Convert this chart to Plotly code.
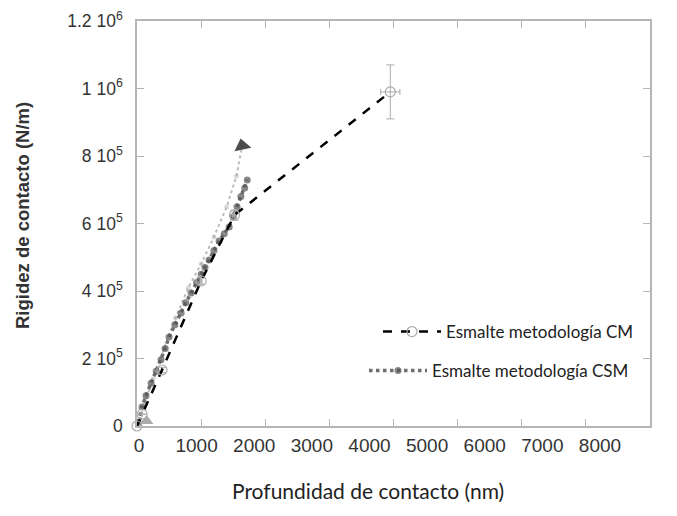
import plotly.graph_objects as go

# ---- data ----
cm_x = [0, 80, 390, 1000, 1520, 3950]
cm_y = [0, 35000, 166000, 430000, 625000, 990000]
cm_err_y = [0, 0, 8000, 10000, 15000, 80000]
cm_err_x = [0, 0, 10, 15, 30, 150]

csm_x = [20, 78, 140, 219, 300, 375, 440, 500, 590, 688, 760, 844, 930, 1000, 1060, 1125, 1200, 1280, 1360, 1437, 1500, 1560, 1620, 1680, 1719]
csm_y = [10000, 56000, 90000, 127000, 162000, 196000, 230000, 264000, 300000, 335000, 365000, 394000, 425000, 450000, 470000, 492000, 520000, 548000, 570000, 590000, 620000, 650000, 680000, 705000, 729000]

csm2_x = [30, 120, 250, 420, 600, 800, 1000, 1200, 1400, 1550, 1640]
csm2_y = [15000, 70000, 140000, 230000, 320000, 410000, 480000, 560000, 650000, 740000, 830000]

tri_x = [150]
tri_y = [15000]

x_tick_vals = [0, 1000, 2000, 3000, 4000, 5000, 6000, 7000, 8000]
x_tick_text = ["0", "1000", "2000", "3000", "4000", "5000", "6000", "7000", "8000"]
y_tick_vals = [0, 200000, 400000, 600000, 800000, 1000000, 1200000]
y_tick_text = ["0", "2 10<sup>5</sup>", "4 10<sup>5</sup>", "6 10<sup>5</sup>",
               "8 10<sup>5</sup>", "1 10<sup>6</sup>", "1.2 10<sup>6</sup>"]

x_title = "Profundidad de contacto (nm)"
y_title = "Rigidez de contacto (N/m)"
name_cm = "Esmalte metodología CM"
name_csm = "Esmalte metodología CSM"

W, H = 677, 516
ML, MR, MT, MB = 137, 27, 21, 90
PW = W - ML - MR

fig = go.Figure()

# invisible trace on a label-only x axis
fig.add_trace(go.Scatter(
    x=[x_tick_vals[0], x_tick_vals[-1]], y=[0, 0], xaxis="x2", yaxis="y",
    mode="markers", marker=dict(opacity=0), showlegend=False, hoverinfo="skip",
))

# light gray dotted series ending with black triangle
fig.add_trace(go.Scatter(
    x=csm2_x, y=csm2_y, mode="lines+markers", showlegend=False, cliponaxis=False,
    line=dict(color="rgba(170,170,170,0.8)", width=2, dash="dot"),
    marker=dict(size=[5]*(len(csm2_x)-1) + [15],
                symbol=["circle"]*(len(csm2_x)-1) + ["triangle-up"],
                color=["rgba(170,170,170,0.6)"]*(len(csm2_x)-1) + ["#000000"],
                angle=[0]*(len(csm2_x)-1) + [-12],
                line=dict(width=0)),
))

# CSM series
fig.add_trace(go.Scatter(
    x=csm_x, y=csm_y, mode="lines+markers", name=name_csm, legend="legend2", cliponaxis=False,
    line=dict(color="#6e6e6e", width=3.5, dash="dot"),
    marker=dict(size=7, color="rgba(85,85,85,0.7)"),
))

# gray triangle near origin
fig.add_trace(go.Scatter(
    x=tri_x, y=tri_y, mode="markers", showlegend=False, cliponaxis=False,
    marker=dict(symbol="triangle-up", size=12, color="rgba(150,150,150,0.8)"),
))

# CM series
fig.add_trace(go.Scatter(
    x=cm_x, y=cm_y, mode="lines+markers", name=name_cm, legend="legend", cliponaxis=False,
    line=dict(color="black", width=2.5, dash="dash"),
    marker=dict(size=10, symbol="circle-open", color="#aaaaaa", line=dict(width=1.2, color="#aaaaaa")),
    error_y=dict(type="data", array=cm_err_y, color="#aaaaaa", thickness=1, width=4),
    error_x=dict(type="data", array=cm_err_x, color="#aaaaaa", thickness=1, width=3),
))

axis_line = "#b5b5b5"
x2_end = (600 - ML) / PW
px_per_unit = (600 - 135) / 8000.0

fig.update_layout(
    width=W, height=H,
    margin=dict(l=ML, r=MR, t=MT, b=MB, autoexpand=False),
    paper_bgcolor="white", plot_bgcolor="rgba(0,0,0,0)",
    font=dict(family="Liberation Sans, Arial", color="#333333"),
    xaxis=dict(
        range=[0, 8000], tickvals=x_tick_vals, showticklabels=False,
        ticks="inside", ticklen=7, tickcolor=axis_line, tickwidth=1,
        showline=True, linecolor=axis_line, linewidth=1.5, mirror="ticks",
        showgrid=False, zeroline=False, automargin=False,
    ),
    xaxis2=dict(
        domain=[0, x2_end], anchor="free", position=0,
        range=[-2 / px_per_unit, 8000], tickvals=x_tick_vals, ticktext=x_tick_text,
        tickfont=dict(size=19, color="#333333"), ticklabelstandoff=6,
        showline=False, ticks="", showgrid=False, zeroline=False, automargin=False,
    ),
    yaxis=dict(
        range=[0, 1200000], tickvals=y_tick_vals, ticktext=y_tick_text,
        tickfont=dict(size=17.5, color="#333333"),
        ticks="inside", ticklen=7, tickcolor=axis_line, tickwidth=1,
        showline=True, linecolor=axis_line, linewidth=1.5, mirror="ticks",
        showgrid=False, zeroline=False, ticklabelstandoff=9, automargin=False,
    ),
    legend=dict(
        x=(378 - ML) / PW, y=(426 - 332) / 405, xanchor="left", yanchor="middle",
        bgcolor="rgba(0,0,0,0)", font=dict(family="Lato, Open Sans", size=17, color="#222222"),
        itemwidth=58,
    ),
    legend2=dict(
        x=(364 - ML) / PW, y=(426 - 371) / 405, xanchor="left", yanchor="middle",
        bgcolor="rgba(0,0,0,0)", font=dict(family="Lato, Open Sans", size=17, color="#222222"),
        itemwidth=58,
    ),
    annotations=[
        dict(text=x_title, xref="paper", yref="paper", x=(368 - ML) / PW, y=(426 - 490) / 405,
             xanchor="center", yanchor="middle", showarrow=False,
             font=dict(family="Lato, Open Sans", size=21, color="#222222")),
        dict(text="<b>" + y_title + "</b>", xref="paper", yref="paper", x=(22 - ML) / PW, y=(426 - 216) / 405,
             xanchor="center", yanchor="middle", showarrow=False, textangle=-90,
             font=dict(family="Liberation Sans, Arial", size=18.5, color="#333333")),
    ],
)

fig.write_html("out.html", config={"displayModeBar": False},
               post_script="document.body.style.margin='0';document.body.style.padding='0';")
